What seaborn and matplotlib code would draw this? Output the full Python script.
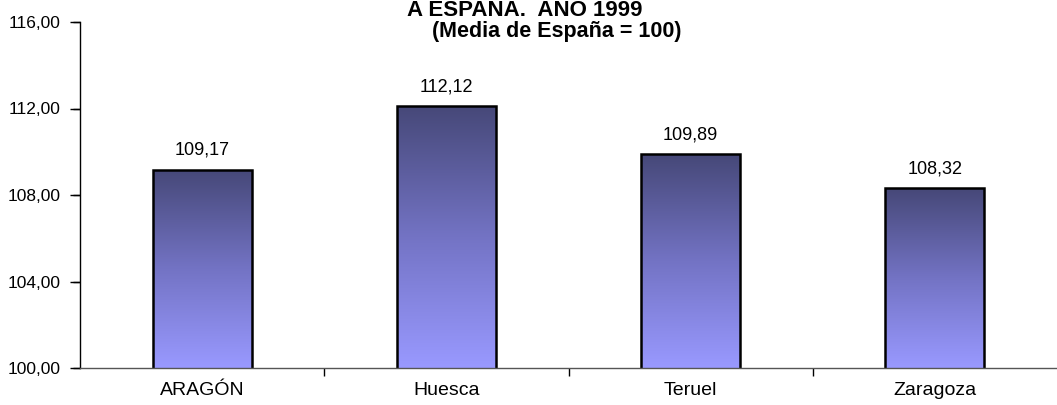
import numpy as np
import pandas as pd
import matplotlib.pyplot as plt
import matplotlib.transforms as mtransforms
import seaborn as sns
from matplotlib.colors import LinearSegmentedColormap

# data
provincias = ["ARAGÓN", "Huesca", "Teruel", "Zaragoza"]
indices = [109.17, 112.12, 109.89, 108.32]
y_ticks = [100, 104, 108, 112, 116]

df = pd.DataFrame({"provincia": provincias, "indice": indices})

sns.set_style("ticks")
plt.rcParams["font.family"] = ["Liberation Sans", "DejaVu Sans"]
plt.rcParams["text.color"] = "black"
plt.rcParams["xtick.color"] = "black"
plt.rcParams["ytick.color"] = "black"

fig = plt.figure(figsize=(10.57, 4.05), dpi=100)
ax = fig.add_axes([80 / 1057, 1 - 368 / 405, 977 / 1057, (368 - 22) / 405])

sns.barplot(data=df, x="provincia", y="indice", ax=ax, width=0.405,
            color="#7777cc", edgecolor="black", linewidth=1.8)
sns.despine(ax=ax, top=True, right=True)
ax.set_ylim(100, 116)
ax.set_xlim(-0.5, 3.5)

# gradient fill, dark on top to light at the bottom
cmap = LinearSegmentedColormap.from_list("grad", ["#9999ff", "#7373c4", "#464878"])
grad = np.linspace(0, 1, 256).reshape(-1, 1)
for p in ax.patches:
    x0, y0 = p.get_x(), p.get_y()
    w, h = p.get_width(), p.get_height()
    p.set_facecolor("none")
    im = ax.imshow(grad, cmap=cmap, aspect="auto", origin="lower",
                   extent=[x0, x0 + w, 100, y0 + h], zorder=p.get_zorder() - 0.1)
    im.set_clip_path(p)

for i, v in enumerate(indices):
    ax.text(i, v + 0.5, f"{v:.2f}".replace(".", ","), ha="center", va="bottom",
            fontsize=13)

ax.set_yticks(y_ticks)
ax.set_yticklabels([f"{t:.2f}".replace(".", ",") for t in y_ticks], fontsize=12.5)
ax.set_xticks([0, 1, 2, 3])
ax.set_xticklabels(provincias, fontsize=14)
ax.set_xticks([0.5, 1.5, 2.5], minor=True)
ax.tick_params(axis="x", which="major", length=0, pad=10)
ax.tick_params(axis="x", which="minor", bottom=True, length=6, color="black",
               width=1, direction="out")
ax.tick_params(axis="y", which="major", left=True, length=7, color="black",
               width=1, direction="out", pad=7)
ax.set_xlabel("")
ax.set_ylabel("")

# y tick marks drawn explicitly as well (outward, 7 px)
trans = mtransforms.blended_transform_factory(ax.transAxes, ax.transData)
ax.hlines(y_ticks, -7 / 977, 0, colors="black", linewidth=1,
          transform=trans, clip_on=False)

ax.spines["left"].set_color("black")
ax.spines["left"].set_linewidth(1)
ax.spines["bottom"].set_color("#555555")
ax.spines["bottom"].set_linewidth(1)

fig.text(525 / 1057, 1 - 10 / 405, "A ESPAÑA.  AÑO 1999", ha="center", va="center",
         fontsize=16, fontweight="bold")
fig.text(557 / 1057, 1 - 32 / 405, "(Media de España = 100)", ha="center", va="center",
         fontsize=15.5, fontweight="bold")

fig.savefig("out.png", dpi=100)
